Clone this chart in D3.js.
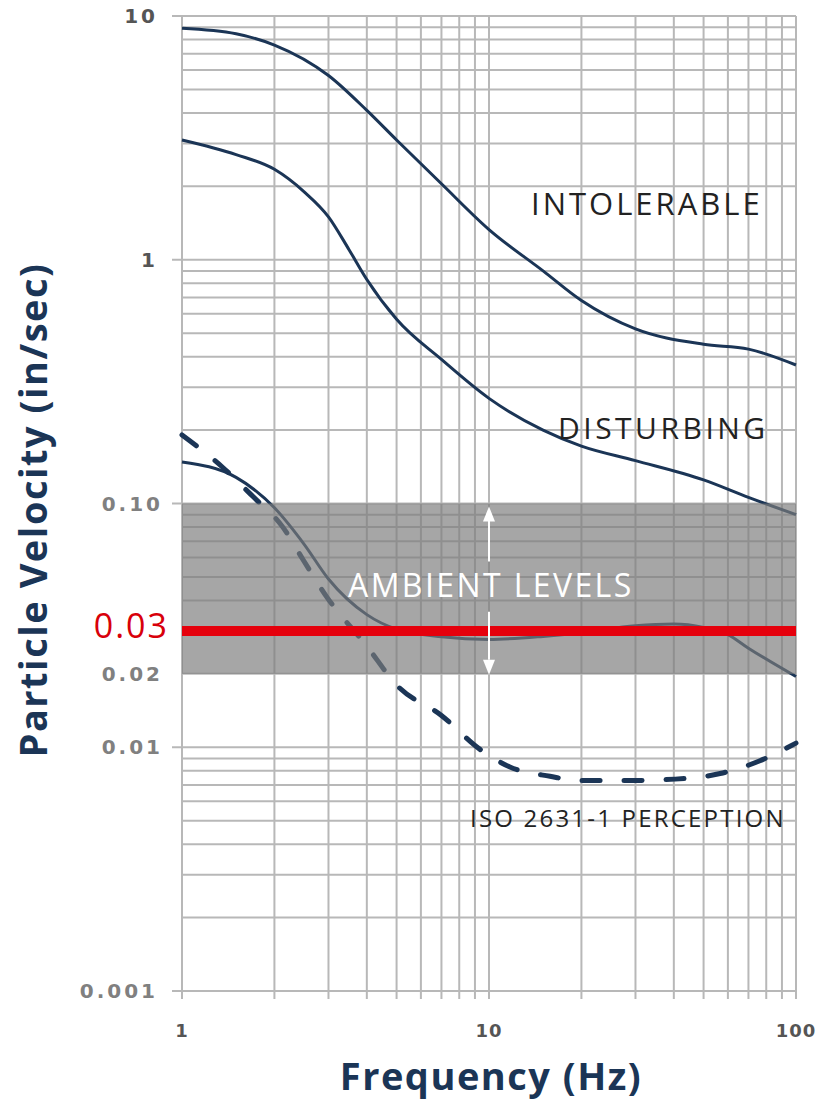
<!DOCTYPE html>
<html>
<head>
<meta charset="utf-8">
<script src="https://cdn.jsdelivr.net/npm/d3@7"></script>
<style>
  body { margin: 0; background: #fff; }
  svg { display: block; }
</style>
</head>
<body>
<div id="chart"></div>
<script>
var w = 818,
	h = 1108;

// curve data (frequency in Hz, velocity in in/sec)
var intolerableF = [1, 1.5, 2, 3, 4, 5, 7, 10, 15, 20, 30, 50, 70, 100];
var intolerableV = [8.9, 8.45, 7.6, 5.7, 4.1, 3.1, 2.05, 1.33, 0.9, 0.68, 0.52, 0.45, 0.43, 0.37];

var disturbingF = [1, 1.5, 2, 2.5, 3, 3.5, 4, 5, 7, 10, 15, 20, 30, 50, 70, 100];
var disturbingV = [3.1, 2.7, 2.35, 1.9, 1.5, 1.1, 0.83, 0.57, 0.39, 0.27, 0.2, 0.172, 0.15, 0.125, 0.106, 0.09];

var thresholdF = [1, 1.5, 2, 2.5, 3, 4, 5, 7, 10, 15, 20, 30, 40, 50, 60, 70, 100];
var thresholdV = [0.148, 0.128, 0.096, 0.068, 0.049, 0.035, 0.0305, 0.0284, 0.0277, 0.0285, 0.0295, 0.0315, 0.032, 0.031, 0.029, 0.0255, 0.0195];

var isoF = [1, 1.35, 1.7, 2.13, 2.48, 2.96, 4, 5, 7, 9.35, 11.7, 15.8, 19.8, 27.7, 40.4, 56.6, 76.3, 100];
var isoV = [0.191, 0.1415, 0.107, 0.08, 0.0588, 0.0414, 0.026, 0.018, 0.0135, 0.0098, 0.0083, 0.0076, 0.0073, 0.0073, 0.0074, 0.0078, 0.0088, 0.0104];

// ambient band and limit line
var ambientLow = 0.02,
	ambientHigh = 0.1,
	limitValue = 0.03;

// tick labels
var xTickValues = [1, 10, 100];
var xTickLabels = ["1", "10", "100"];
var yTickValues = [10, 1, 0.1, 0.02, 0.01, 0.001];
var yTickLabels = ["10", "1", "0.10", "0.02", "0.01", "0.001"];

var navy = "#1b3556",
	gridColor = "#b8b8b8";

var svg = d3.select("#chart").append("svg")
	.attr("width", w)
	.attr("height", h);

var x = d3.scaleLog().domain([1, 100]).range([182, 796]);
var y = d3.scaleLog().domain([0.001, 10]).range([991, 16]);

// grid lines
var xGrid = [];
for (var k = 1; k <= 10; k++) xGrid.push(k);
for (var k = 20; k <= 100; k += 10) xGrid.push(k);
var yGrid = [];
[0.001, 0.01, 0.1, 1].forEach(function(b) {
	for (var k = 1; k <= 9; k++) yGrid.push(b * k);
});
yGrid.push(10);

var grid = svg.append("g").attr("class", "grid");
grid.selectAll("line.v")
	.data(xGrid)
	.enter()
	.append("line")
	.attr("class", "v")
	.attr("x1", function(d) { return x(d); })
	.attr("x2", function(d) { return x(d); })
	.attr("y1", y(10))
	.attr("y2", y(0.001) + 8)
	.attr("stroke", gridColor)
	.attr("stroke-width", 2);
grid.selectAll("line.h")
	.data(yGrid)
	.enter()
	.append("line")
	.attr("class", "h")
	.attr("x1", function(d) {
		return [10, 1, 0.1, 0.01, 0.001].indexOf(+d.toPrecision(3)) >= 0 ? x(1) - 10 : x(1);
	})
	.attr("x2", x(100))
	.attr("y1", function(d) { return y(d); })
	.attr("y2", function(d) { return y(d); })
	.attr("stroke", gridColor)
	.attr("stroke-width", 2);

// curves
var line = d3.line()
	.x(function(d) { return x(d[0]); })
	.y(function(d) { return y(d[1]); })
	.curve(d3.curveMonotoneX);

function pairs(f, v) { return f.map(function(d, i) { return [d, v[i]]; }); }

svg.append("path")
	.attr("d", line(pairs(intolerableF, intolerableV)))
	.attr("fill", "none").attr("stroke", navy).attr("stroke-width", 3);
svg.append("path")
	.attr("d", line(pairs(disturbingF, disturbingV)))
	.attr("fill", "none").attr("stroke", navy).attr("stroke-width", 3);
svg.append("path")
	.attr("d", line(pairs(thresholdF, thresholdV)))
	.attr("fill", "none").attr("stroke", navy).attr("stroke-width", 3);
svg.append("path")
	.attr("d", line(pairs(isoF, isoV)))
	.attr("fill", "none").attr("stroke", navy).attr("stroke-width", 5)
	.attr("stroke-linecap", "round")
	.attr("stroke-dasharray", "18,24");

// ambient band (drawn over the curves)
svg.append("rect")
	.attr("x", x(1))
	.attr("y", y(ambientHigh))
	.attr("width", x(100) - x(1))
	.attr("height", y(ambientLow) - y(ambientHigh))
	.attr("fill", "#7c7c7c")
	.attr("opacity", 0.68);

// 0.03 limit line
svg.append("line")
	.attr("x1", x(1)).attr("x2", x(100))
	.attr("y1", y(limitValue)).attr("y2", y(limitValue))
	.attr("stroke", "#e5000c")
	.attr("stroke-width", 10);

// white arrows
var ax = x(10);
var arrows = svg.append("g").attr("fill", "#fff").attr("stroke", "#fff");
arrows.append("line")
	.attr("x1", ax).attr("x2", ax)
	.attr("y1", y(ambientHigh) + 14).attr("y2", y(ambientHigh) + 58)
	.attr("stroke-width", 2);
arrows.append("path")
	.attr("d", "M" + ax + "," + (y(ambientHigh) + 3) + "l-6,15h12z")
	.attr("stroke", "none");
arrows.append("line")
	.attr("x1", ax).attr("x2", ax)
	.attr("y1", y(ambientLow) - 62).attr("y2", y(ambientLow) - 14)
	.attr("stroke-width", 2);
arrows.append("path")
	.attr("d", "M" + ax + "," + (y(ambientLow) + 1) + "l-6,-15h12z")
	.attr("stroke", "none");

// labels in the plot (start-anchored so letter-spacing doesn't shift them)
svg.append("text")
	.attr("x", 348).attr("y", 597)
	.attr("font-family", "Open Sans")
	.attr("font-size", "32px")
	.attr("letter-spacing", "2.4px")
	.attr("fill", "#fff")
	.text("AMBIENT LEVELS");

svg.append("text")
	.attr("x", 531).attr("y", 215)
	.attr("font-family", "Open Sans")
	.attr("font-size", "31px")
	.attr("letter-spacing", "3px")
	.attr("fill", "#222")
	.text("INTOLERABLE");

svg.append("text")
	.attr("x", 558).attr("y", 439)
	.attr("font-family", "Open Sans")
	.attr("font-size", "30px")
	.attr("letter-spacing", "3.5px")
	.attr("fill", "#222")
	.text("DISTURBING");

svg.append("text")
	.attr("x", 470).attr("y", 827)
	.attr("font-family", "Open Sans")
	.attr("font-size", "24px")
	.attr("letter-spacing", "2.2px")
	.attr("fill", "#222")
	.text("ISO 2631-1 PERCEPTION");

// y tick labels
svg.append("g").selectAll("text")
	.data(yTickValues)
	.enter()
	.append("text")
	.attr("x", function(d) { return (d >= 1 ? 155 : (d < 0.005 ? 155 : 160)) + 3; })
	.attr("y", function(d) { return y(d) + 7; })
	.attr("text-anchor", "end")
	.attr("font-family", "DejaVu Sans")
	.attr("font-weight", "bold")
	.attr("letter-spacing", "3px")
	.attr("font-size", "20px")
	.attr("fill", function(d) { return d >= 1 ? "#555" : "#808080"; })
	.text(function(d, i) { return yTickLabels[i]; });

svg.append("text")
	.attr("x", 169).attr("y", y(limitValue) + 7)
	.attr("text-anchor", "end")
	.attr("font-family", "Open Sans")
	.attr("font-size", "34px")
	.attr("letter-spacing", "2px")
	.attr("fill", "#d8000a")
	.text("0.03");

// x tick labels
svg.append("g").selectAll("text")
	.data(xTickValues)
	.enter()
	.append("text")
	.attr("x", function(d) { return x(d); })
	.attr("y", 1037)
	.attr("text-anchor", "middle")
	.attr("font-family", "DejaVu Sans")
	.attr("font-weight", "bold")
	.attr("letter-spacing", "1px")
	.attr("font-size", "18px")
	.attr("fill", "#555")
	.text(function(d, i) { return xTickLabels[i]; });

// axis titles
svg.append("text")
	.attr("x", 491).attr("y", 1090)
	.attr("text-anchor", "middle")
	.attr("font-family", "Open Sans")
	.attr("font-weight", "bold")
	.attr("font-size", "38px")
	.attr("letter-spacing", "1.5px")
	.attr("fill", navy)
	.text("Frequency (Hz)");

svg.append("text")
	.attr("transform", "translate(47,510) rotate(-90)")
	.attr("text-anchor", "middle")
	.attr("font-family", "Open Sans")
	.attr("font-weight", "bold")
	.attr("font-size", "38px")
	.attr("letter-spacing", "1.5px")
	.attr("fill", navy)
	.text("Particle Velocity (in/sec)");
</script>
</body>
</html>
